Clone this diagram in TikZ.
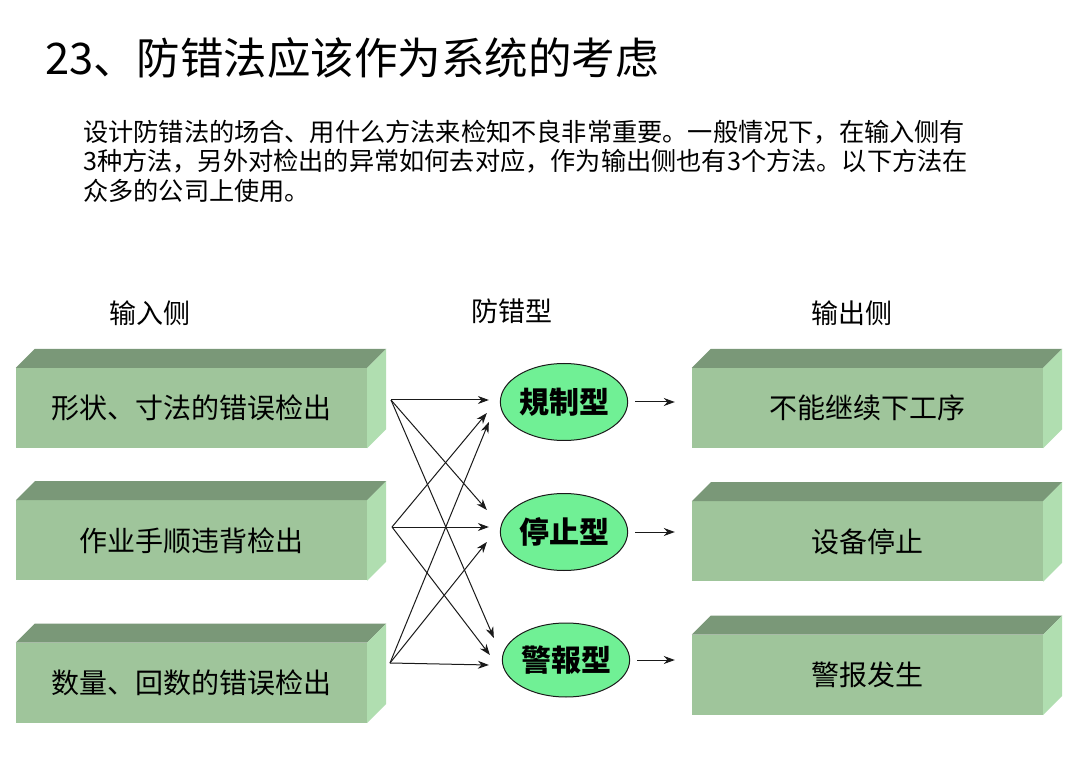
\documentclass[tikz,border=0pt]{standalone}
\usepackage{fontspec}
\setmainfont{Noto Sans CJK SC}
\usepackage{xcolor}
\definecolor{boxFront}{HTML}{9FC59B}
\definecolor{boxTop}{HTML}{7A9878}
\definecolor{boxSide}{HTML}{B0DEB0}
\definecolor{ovalFill}{HTML}{70F095}
\definecolor{lineDark}{HTML}{1A1A1A}
\usetikzlibrary{shapes.geometric,arrows.meta,positioning,calc}
\tikzset{
    block/.style={
        fill=boxFront,
        rectangle,
        align=center,
        minimum height=80pt,
        minimum width=351pt,
        inner sep=0pt,
        font=\fontsize{28}{32}\selectfont
    },
    topface/.style={fill=boxTop},
    sideface/.style={fill=boxSide},
    oval/.style={
        draw=lineDark,
        fill=ovalFill,
        ellipse,
        line width=1pt,
        minimum width=122pt,
        minimum height=77pt,
        inner sep=0pt,
        font=\fontsize{30}{34}\selectfont\bfseries
    },
    heading/.style={
        font=\fontsize{27}{30}\selectfont,
        inner sep=0pt
    },
    arrow/.style={
        -{Stealth[length=11pt,width=8pt]},
        line width=1pt,
        color=lineDark
    }
}
\begin{document}
\begin{tikzpicture}[x=1pt,y=-1pt]
    \useasboundingbox (0,0) rectangle (1080,767);
    \fill[white] (0,0) rectangle (1080,767);

    % Title and description
    \node[anchor=west, inner sep=0pt, font=\fontsize{43.5}{48}\selectfont] (title) at (45,58)
        {23、防错法应该作为系统的考虑};
    \node[anchor=west, inner sep=0pt, align=left, font=\fontsize{25.2}{29.5}\selectfont] (intro) at (83,161)
        {设计防错法的场合、用什么方法来检知不良非常重要。一般情况下，在输入侧有\\
         3种方法，另外对检出的异常如何去对应，作为输出侧也有3个方法。以下方法在\\
         众多的公司上使用。};

    % Column headings
    \node[heading] (hin) at (150,313) {输入侧};
    \node[heading] (hmid) at (512,311) {防错型};
    \node[heading] (hout) at (852,313) {输出侧};

    % Input side
    \node[block] (in1) at (191.5,408) {形状、寸法的错误检出};
    \node[block, below=52pt of in1] (in2) {作业手顺违背检出};
    \node[block, below=62pt of in2] (in3) {数量、回数的错误检出};

    % Output side
    \node[block] (out1) at (867.5,408) {不能继续下工序};
    \node[block, below=53pt of out1] (out2) {设备停止};
    \node[block, below=53pt of out2] (out3) {警报发生};

    % Box depth
    \foreach \n in {in1,in2,in3,out1,out2,out3} {
        \fill[topface] (\n.north west) -- ++(19pt,19pt)
            -- ([xshift=19pt,yshift=19pt]\n.north east) -- (\n.north east) -- cycle;
        \fill[sideface] (\n.north east) -- ++(19pt,19pt)
            -- ([xshift=19pt,yshift=19pt]\n.south east) -- (\n.south east) -- cycle;
    }

    % Mistake-proofing types
    \node[oval] (guizhi) at (564,402) {規制型};
    \node[oval] (tingzhi) at (564,532) {停止型};
    \node[oval, minimum height=74pt] (jingbao) at (566,660) {警報型};

    % Fan-out points
    \coordinate (s1) at (391,400);
    \coordinate (s2) at (392,527);
    \coordinate (s3) at (390,663);

    % Connections
    \draw[arrow] (s1) -- ([xshift=-11pt,yshift=2pt]guizhi.west);
    \draw[arrow] (s1) -- ([xshift=-13pt,yshift=22pt]tingzhi.west);
    \draw[arrow] (s1) -- ([xshift=-8pt,yshift=22pt]jingbao.west);
    \draw[arrow] (s2) -- ([xshift=-13pt,yshift=-11pt]guizhi.west);
    \draw[arrow] (s2) -- ([xshift=-11pt,yshift=5pt]tingzhi.west);
    \draw[arrow] (s2) -- ([xshift=-12pt,yshift=5pt]jingbao.west);
    \draw[arrow] (s3) -- ([xshift=-11pt,yshift=-20pt]guizhi.west);
    \draw[arrow] (s3) -- ([xshift=-13pt,yshift=-10pt]tingzhi.west);
    \draw[arrow] (s3) -- ([xshift=-13pt,yshift=-5pt]jingbao.west);

    \draw[arrow, shorten <=7pt, shorten >=17pt] (guizhi.east) -- (guizhi.east -| out1.west);
    \draw[arrow, shorten <=7pt, shorten >=17pt] (tingzhi.east) -- (tingzhi.east -| out2.west);
    \draw[arrow, shorten <=7pt, shorten >=17pt] (jingbao.east) -- (jingbao.east -| out3.west);
\end{tikzpicture}
\end{document}
